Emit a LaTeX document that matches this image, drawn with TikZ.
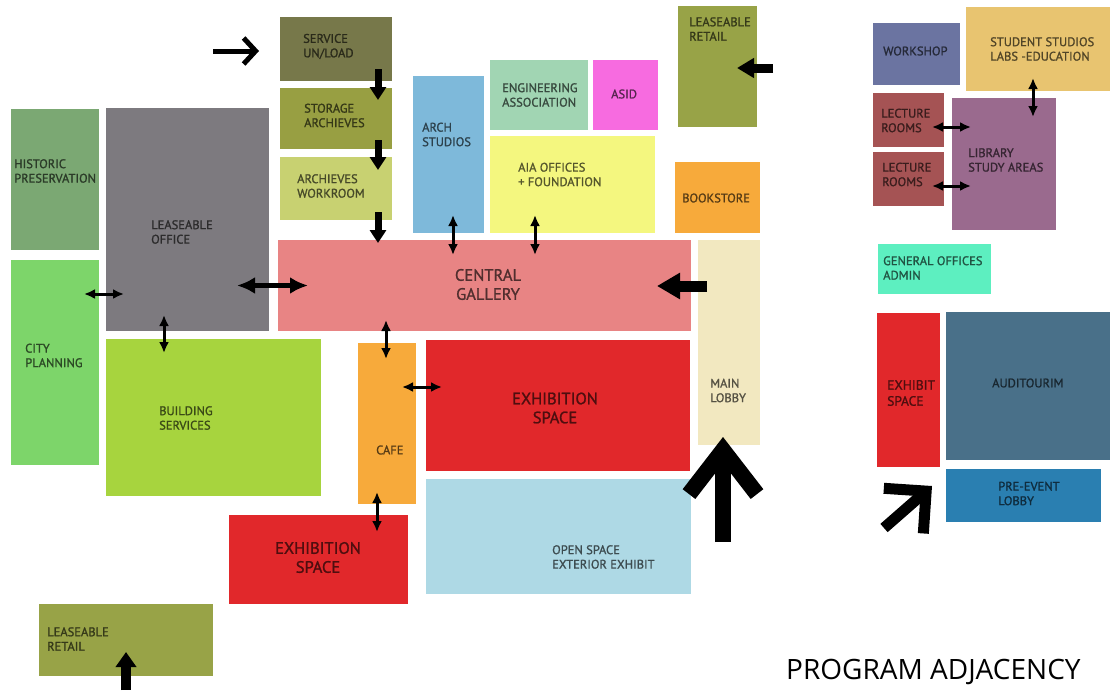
\documentclass[tikz,border=0pt]{standalone}
\usepackage{fontspec}
\setmainfont{PT Sans}[FakeBold=1.2]
\newfontfamily\titlefont{Open Sans}
\usepackage{tikz}
\usetikzlibrary{arrows.meta, calc}

\definecolor{svcolive}{HTML}{77784A}
\definecolor{storolive}{HTML}{989F42}
\definecolor{workolive}{HTML}{C8D171}
\definecolor{histgreen}{HTML}{7BA873}
\definecolor{officegray}{HTML}{7D7A7F}
\definecolor{citygreen}{HTML}{7DD56A}
\definecolor{buildgreen}{HTML}{A7D43E}
\definecolor{gallerypink}{HTML}{E88484}
\definecolor{archblue}{HTML}{7EB9DA}
\definecolor{engmint}{HTML}{A1D5B3}
\definecolor{asidpink}{HTML}{F76BE0}
\definecolor{aiayellow}{HTML}{F4F77F}
\definecolor{retailolive}{HTML}{98A347}
\definecolor{bookorange}{HTML}{F7AA3B}
\definecolor{lobbycream}{HTML}{F2E8C0}
\definecolor{exhibred}{HTML}{E1282B}
\definecolor{openblue}{HTML}{AED9E5}
\definecolor{shopblue}{HTML}{6B74A1}
\definecolor{studioyellow}{HTML}{E8C470}
\definecolor{lecturered}{HTML}{A55354}
\definecolor{libplum}{HTML}{9A6A8E}
\definecolor{adminmint}{HTML}{5DEFC0}
\definecolor{audislate}{HTML}{497089}
\definecolor{preblue}{HTML}{2A7FB1}

\begin{document}
\begin{tikzpicture}[x=1pt, y=-1pt,
    room/.style={rectangle, fill=#1, inner sep=0pt, outer sep=0pt, anchor=north west},
    tag/.style={anchor=west, align=left, inner sep=0pt, text=#1!35!black, font=\fontsize{12.5}{14.5}\selectfont},
    bigtag/.style={align=center, inner sep=0pt, text=#1!35!black, font=\fontsize{16.5}{19}\selectfont},
    oneway/.style={-{Triangle[length=13pt,width=16pt]}, line width=7pt},
    twoway/.style={{Latex[length=11pt,width=10pt]}-{Latex[length=11pt,width=10pt]}, line width=3pt},
    bigtwoway/.style={{Latex[length=18pt,width=17pt]}-{Latex[length=18pt,width=17pt]}, line width=5pt},
    inway/.style={-{Triangle[length=#1]}, line width=10pt},
    chevron/.style={-{Straight Barb[length=12pt,width=26pt]}, line width=5pt}
]
    \useasboundingbox[fill=white] (0,0) rectangle (1110,696);

    % rooms
    \node[room=svcolive,     minimum width=112, minimum height=64]  (service)     at (280,17)  {};
    \node[room=storolive,    minimum width=112, minimum height=61]  (storage)     at (280,88)  {};
    \node[room=workolive,    minimum width=112, minimum height=63]  (workroom)    at (280,157) {};
    \node[room=histgreen,    minimum width=88,  minimum height=141] (historic)    at (11,109)  {};
    \node[room=officegray,   minimum width=163, minimum height=223] (office)      at (106,108) {};
    \node[room=citygreen,    minimum width=88,  minimum height=205] (city)        at (11,260)  {};
    \node[room=gallerypink,  minimum width=413, minimum height=91]  (gallery)     at (278,240) {};
    \node[room=archblue,     minimum width=71,  minimum height=157] (arch)        at (413,76)  {};
    \node[room=engmint,      minimum width=98,  minimum height=70]  (engineering) at (490,60)  {};
    \node[room=asidpink,     minimum width=65,  minimum height=70]  (asid)        at (593,60)  {};
    \node[room=aiayellow,    minimum width=165, minimum height=97]  (aia)         at (490,136) {};
    \node[room=retailolive,  minimum width=79,  minimum height=121] (retailtop)   at (678,6)   {};
    \node[room=bookorange,   minimum width=85,  minimum height=71]  (bookstore)   at (675,162) {};
    \node[room=lobbycream,   minimum width=62,  minimum height=205] (lobby)       at (698,240) {};
    \node[room=buildgreen,   minimum width=215, minimum height=157] (building)    at (106,339) {};
    \node[room=bookorange,   minimum width=58,  minimum height=161] (cafe)        at (358,343) {};
    \node[room=exhibred,     minimum width=264, minimum height=131] (exhibmain)   at (426,340) {};
    \node[room=openblue,     minimum width=265, minimum height=115] (openspace)   at (426,479) {};
    \node[room=exhibred,     minimum width=179, minimum height=89]  (exhiblow)    at (229,515) {};
    \node[room=retailolive,  minimum width=174, minimum height=72]  (retaillow)   at (39,604)  {};
    \node[room=shopblue,     minimum width=87,  minimum height=62]  (workshop)    at (873,23)  {};
    \node[room=studioyellow, minimum width=144, minimum height=84]  (studios)     at (966,7)   {};
    \node[room=lecturered,   minimum width=71,  minimum height=54]  (lectureA)    at (873,93)  {};
    \node[room=lecturered,   minimum width=71,  minimum height=54]  (lectureB)    at (873,152) {};
    \node[room=libplum,      minimum width=104, minimum height=132] (library)     at (952,98)  {};
    \node[room=adminmint,    minimum width=113, minimum height=50]  (admin)       at (878,244) {};
    \node[room=exhibred,     minimum width=63,  minimum height=154] (exhibside)   at (877,313) {};
    \node[room=audislate,    minimum width=164, minimum height=148] (auditorium)  at (946,312) {};
    \node[room=preblue,      minimum width=155, minimum height=53]  (preevent)    at (946,469) {};

    % room names
    \node[tag=svcolive]     (service-t)     at (303,46.5)  {SERVICE\\UN/LOAD};
    \node[tag=storolive]    (storage-t)     at (304,115.5) {STORAGE\\ARCHIEVES};
    \node[tag=workolive]    (workroom-t)    at (297,186)   {ARCHIEVES\\WORKROOM};
    \node[tag=histgreen]    (historic-t)    at (14,171)    {HISTORIC\\PRESERVATION};
    \node[tag=officegray]   (office-t)      at (151,232)   {LEASEABLE\\OFFICE};
    \node[tag=citygreen]    (city-t)        at (25,355.5)  {CITY\\PLANNING};
    \node[tag=buildgreen]   (building-t)    at (159,418)   {BUILDING\\SERVICES};
    \node[tag=bookorange]   (cafe-t)        at (376,450)   {CAFE};
    \node[tag=retailolive]  (retaillow-t)   at (47,639)    {LEASEABLE\\RETAIL};
    \node[tag=archblue]     (arch-t)        at (422,134.5) {ARCH\\STUDIOS};
    \node[tag=engmint]      (engineering-t) at (502,95)    {ENGINEERING\\ASSOCIATION};
    \node[tag=asidpink]     (asid-t)        at (611,94)    {ASID};
    \node[tag=aiayellow]    (aia-t)         at (518,174.5) {AIA OFFICES\\+ FOUNDATION};
    \node[tag=retailolive]  (retailtop-t)   at (689,29)    {LEASEABLE\\RETAIL};
    \node[tag=bookorange]   (bookstore-t)   at (682,198)   {BOOKSTORE};
    \node[tag=lobbycream]   (lobby-t)       at (710,390.5) {MAIN\\LOBBY};
    \node[tag=openblue]     (openspace-t)   at (552,557)   {OPEN SPACE\\EXTERIOR EXHIBIT};
    \node[tag=shopblue]     (workshop-t)    at (883,51)    {WORKSHOP};
    \node[tag=studioyellow] (studios-t)     at (990,49)    {STUDENT STUDIOS\\LABS -EDUCATION};
    \node[tag=lecturered]   (lectureA-t)    at (881,120.5) {LECTURE\\ROOMS};
    \node[tag=lecturered]   (lectureB-t)    at (882,174.5) {LECTURE\\ROOMS};
    \node[tag=libplum]      (library-t)     at (968,160)   {LIBRARY\\STUDY AREAS};
    \node[tag=adminmint]    (admin-t)       at (883,268)   {GENERAL OFFICES\\ADMIN};
    \node[tag=audislate]    (auditorium-t)  at (992,383)   {AUDITOURIM};
    \node[tag=preblue]      (preevent-t)    at (998,493.5) {PRE-EVENT\\LOBBY};
    \node[tag=exhibred, font=\fontsize{13.5}{16}\selectfont] (exhibside-t) at (887,393) {EXHIBIT\\SPACE};
    \node[bigtag=gallerypink] (gallery-t)   at (488,284.5) {CENTRAL\\GALLERY};
    \node[bigtag=exhibred]    (exhibmain-t) at (555,408)   {EXHIBITION\\SPACE};
    \node[bigtag=exhibred]    (exhiblow-t)  at (318,557.5) {EXHIBITION\\SPACE};

    \node[anchor=base west, inner sep=0pt, font=\titlefont\fontsize{28}{31}\selectfont] (title) at (786,679) {PROGRAM ADJACENCY};

    % free ends
    \coordinate (truck)    at (213,51);
    \coordinate (gate)     at (126,690);
    \coordinate (street)   at (773,68);
    \coordinate (entrance) at (723,542);
    \coordinate (plaza)    at (884,528);

    % adjacencies
    \draw[chevron] (truck) -- ([shift={(-21,2)}]service.west);
    \draw[oneway] ([shift={(42,-12)}]service.south) -- ([shift={(42,12)}]storage.north);
    \draw[oneway] ([shift={(42,-9)}]storage.south) -- ([shift={(42,13)}]workroom.north);
    \draw[oneway] ([shift={(42,-8)}]workroom.south) -- ([shift={(100,3)}]gallery.north west);
    \draw[bigtwoway] ([shift={(-32,0)}]office.east |- gallery.west) -- ([shift={(30,0)}]gallery.west);
    \draw[twoway] ([shift={(-15,34)}]city.north east) -- ([shift={(18,186)}]office.north west);
    \draw[twoway] ([shift={(58,-16)}]office.south west) -- ([shift={(58,14)}]building.north west);
    \draw[twoway] ([shift={(108,-11)}]gallery.south west) -- ([shift={(28,16)}]cafe.north west);
    \draw[twoway] ([shift={(-14,44)}]cafe.north east) -- ([shift={(16,47)}]exhibmain.north west);
    \draw[twoway] ([shift={(19,-12)}]cafe.south west) -- ([shift={(-31,17)}]exhiblow.north east);
    \draw[twoway] ([shift={(40,-18)}]arch.south west) -- ([shift={(175,15)}]gallery.north west);
    \draw[twoway] ([shift={(45,-18)}]aia.south west) -- ([shift={(257,15)}]gallery.north west);
    \draw[inway=15pt, -{Triangle[length=15pt,width=20pt]}] (gate) -- ([shift={(87,-24)}]retaillow.south west);
    \draw[inway=17pt, line width=9pt, -{Triangle[length=17pt,width=19pt]}] (street) -- ([shift={(-20,62)}]retailtop.north east);
    \draw[line width=11pt, -{Triangle[length=23pt,width=25pt]}] ([shift={(9,46)}]lobby.north west) -- ([shift={(-34,46)}]gallery.north east);
    \draw[line width=16pt, -{Straight Barb[length=44pt,width=68pt]}] (entrance) -- ([shift={(-6,-8)}]lobby.south);
    \draw[line width=11pt, -{Straight Barb[length=30pt,width=60pt]}] (plaza) -- ([shift={(-8,19)}]exhibside.south east);
    \draw[twoway] ([shift={(67,-13)}]studios.south west) -- ([shift={(81,19)}]library.north west);
    \draw[twoway] ([shift={(-12,7)}]lectureA.east) -- ([shift={(19,29)}]library.north west);
    \draw[twoway] ([shift={(-12,7)}]lectureB.east) -- ([shift={(19,88)}]library.north west);
\end{tikzpicture}
\end{document}
